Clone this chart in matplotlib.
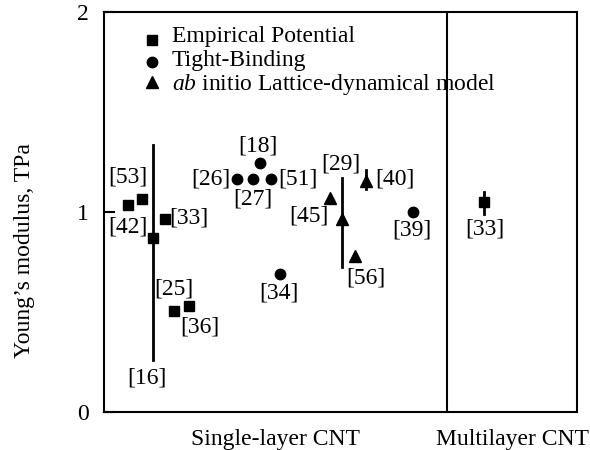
import matplotlib
matplotlib.use("Agg")
import matplotlib.pyplot as plt

plt.rcParams['font.family'] = ['Liberation Serif', 'DejaVu Serif']
plt.rcParams['mathtext.fontset'] = 'custom'
plt.rcParams['mathtext.rm'] = 'Liberation Serif'
plt.rcParams['mathtext.it'] = 'Liberation Serif:italic'

# Young's modulus estimates for carbon nanotubes, by reference
refs = ['[42]', '[53]', '[16]', '[33]', '[25]', '[36]',
        '[26]', '[27]', '[18]', '[51]', '[34]', '[39]',
        '[45]', '[29]', '[56]', '[40]',
        '[33]']
method = ['emp', 'emp', 'emp', 'emp', 'emp', 'emp',
          'tb', 'tb', 'tb', 'tb', 'tb', 'tb',
          'ab', 'ab', 'ab', 'ab',
          'emp']
xpos = [2.4, 3.8, 4.9, 6.1, 7.0, 8.5,
        13.3, 14.9, 15.6, 16.7, 17.6, 30.9,
        22.6, 23.8, 25.1, 26.2,
        38.0]
modulus = [1.035, 1.065, 0.87, 0.965, 0.505, 0.53,
           1.165, 1.165, 1.245, 1.165, 0.69, 1.0,
           1.07, 0.965, 0.78, 1.155,
           1.05]
# error ranges (low, high); None where no bar is drawn
ranges = [None, None, (0.26, 1.335), None, None, None,
          None, None, None, None, None, None,
          None, (0.725, 1.17), None, (1.115, 1.21),
          (0.99, 1.10)]
# label offsets in pixels from each point
label_dx = [0, -14.5, -6.5, 24, 0, 11,
            -26, 0, -2.5, 26.5, -1.5, -1.5,
            -21.5, -1, 11, 28.5,
            0.5]
label_dy = [-22, 22, -140, 1, 22, -21,
            0, -20, 17, 0, -19, -18,
            -18, 55, -22, 2,
            -27]

markers = {'emp': 's', 'tb': 'o', 'ab': '^'}
msizes = {'emp': 7.5, 'tb': 7.5, 'ab': 9}

fig = plt.figure(figsize=(5.9, 4.5), dpi=100)
ax = fig.add_axes([0.1763, 0.0844, 0.8017, 0.8889])

for i in range(len(refs)):
    m = method[i]
    if ranges[i] is not None:
        ax.plot([xpos[i], xpos[i]], ranges[i], color='black', lw=2, zorder=2)
    ax.plot(xpos[i], modulus[i], marker=markers[m], ms=msizes[m],
            color='black', linestyle='none', zorder=3)
    ax.annotate(refs[i], (xpos[i], modulus[i]),
                xytext=(label_dx[i], label_dy[i]), textcoords='offset pixels',
                ha='center', va='center', fontsize=17)

# divider between single-layer and multilayer
ax.axvline(34.3, color='black', lw=1.5)

ax.set_xlim(0, 47.3)
ax.set_ylim(0, 2)
ax.set_xticks([])
ax.set_yticks([0, 1, 2])
ax.set_yticklabels(['0', '1', '2'], fontsize=17)
ax.tick_params(axis='y', direction='in', length=8, width=1.5, pad=11)
for s in ax.spines.values():
    s.set_linewidth(1.5)

ax.set_ylabel('Young\u2019s modulus, TPa', fontsize=17)
ax.yaxis.set_label_coords(-0.146, 0.4025)

ax.text(17.1, -0.085, 'Single-layer CNT', ha='center', va='top', fontsize=17)
ax.text(40.8, -0.085, 'Multilayer CNT', ha='center', va='top', fontsize=17)

# legend drawn by hand for tight row spacing
leg_labels = ['Empirical Potential', 'Tight-Binding',
              '$\\mathit{ab}$ initio Lattice-dynamical model']
leg_keys = ['emp', 'tb', 'ab']
leg_mark_y = [0.93, 0.875, 0.825]
leg_text_y = [0.94, 0.88, 0.82]
for k, lab, my, ty in zip(leg_keys, leg_labels, leg_mark_y, leg_text_y):
    ax.plot(0.1015, my, marker=markers[k], ms=msizes[k], color='black',
            linestyle='none', transform=ax.transAxes)
    ax.text(0.1438, ty, lab, ha='left', va='center', fontsize=17,
            transform=ax.transAxes)

fig.savefig('out.png', dpi=100)
